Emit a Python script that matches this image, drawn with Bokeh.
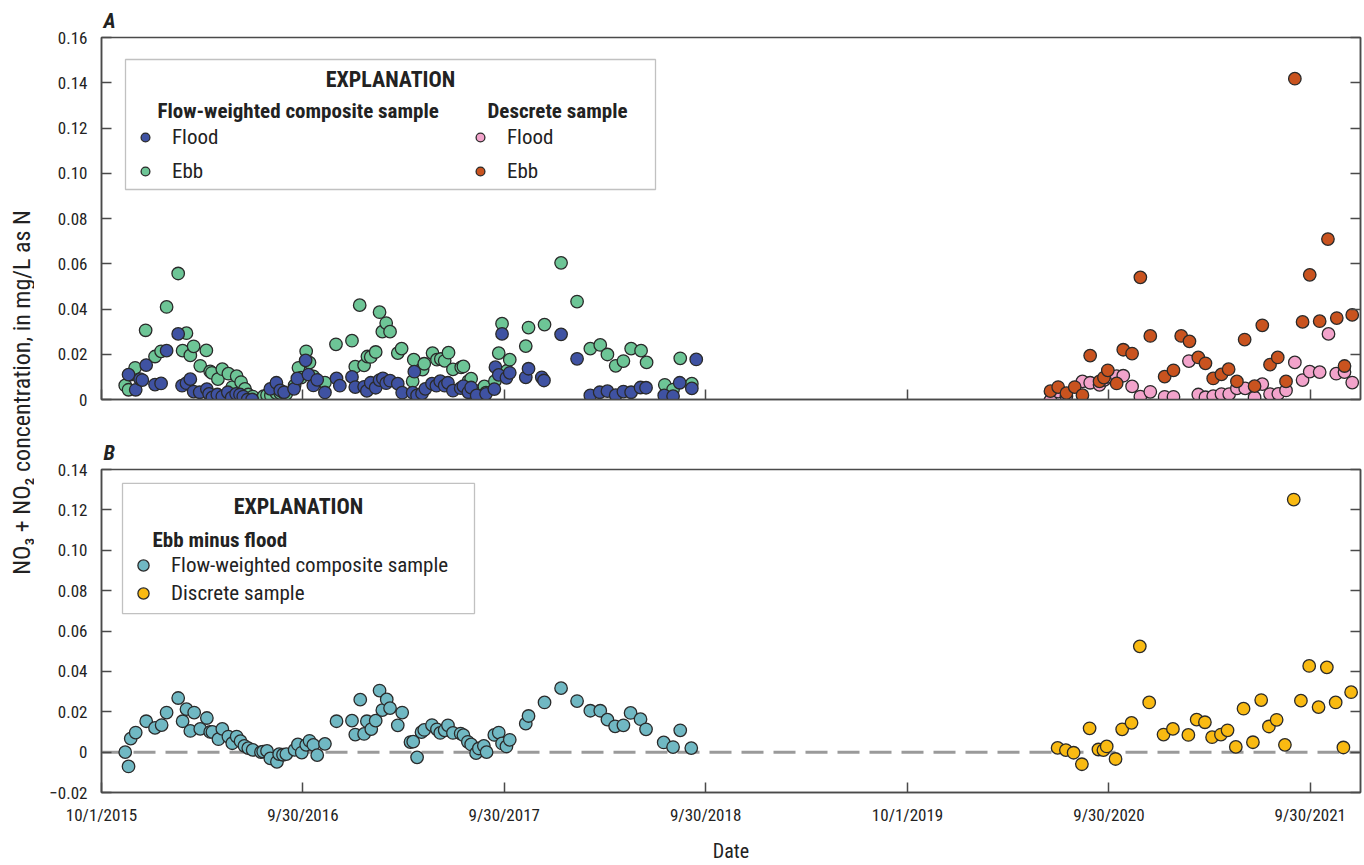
import math
import pandas as pd
from bokeh.plotting import figure
from bokeh.layouts import row, column
from bokeh.models import (Range1d, FixedTicker, CustomJSTickFormatter, LinearAxis, Span,
                          BoxAnnotation, Label, Legend, LegendItem)
from bokeh.embed import file_html
from bokeh.resources import INLINE

# ---------------- data (days since 10/1/2015, concentration mg/L as N) ----------------
START = pd.Timestamp("2015-10-01")

comp_flood_days = [49, 62, 70, 74, 81, 97, 108, 118, 139, 146, 154, 161, 167, 178, 191, 195, 201, 210, 219, 229,
                   236, 244, 251, 257, 265, 273, 306, 317, 324, 331, 349, 355, 370, 375, 384, 391, 405, 426, 432, 454,
                   460, 476, 481, 488, 497, 504, 510, 516, 523, 537, 545, 564, 567, 572, 581, 587, 599, 607, 614, 622,
                   628, 637, 651, 656, 665, 670, 680, 697, 712, 714, 720, 726, 734, 740, 769, 774, 798, 802, 833, 862,
                   886, 903, 917, 932, 946, 960, 977, 987, 1020, 1036, 1048, 1070, 1078]
comp_flood_vals = [0.011, 0.0043, 0.009, 0.0086, 0.0152, 0.0066, 0.0071, 0.0216, 0.029, 0.0061, 0.0072, 0.009, 0.0035,
                   0.0032, 0.0046, 0.0025, 0.0009, 0.0022, 0.0013, 0.0032, 0.0008, 0.0025, 0.0022, 0.0013, 0.0, 0.0,
                   0.0047, 0.0074, 0.004, 0.0032, 0.0047, 0.0093, 0.0173, 0.011, 0.0062, 0.0087, 0.0031, 0.0093, 0.0061,
                   0.01, 0.0055, 0.0056, 0.0038, 0.0074, 0.0052, 0.0086, 0.0093, 0.0072, 0.0083, 0.007, 0.003, 0.003,
                   0.0123, 0.0018, 0.0027, 0.0047, 0.007, 0.0061, 0.0081, 0.0061, 0.0074, 0.0039, 0.005, 0.0059, 0.0032,
                   0.0053, 0.0018, 0.0025, 0.0046, 0.0143, 0.0109, 0.029, 0.0096, 0.0118, 0.0098, 0.0136, 0.0098,
                   0.0084, 0.0288, 0.018, 0.0018, 0.0032, 0.0037, 0.0019, 0.0035, 0.0032, 0.0053, 0.0052, 0.0018,
                   0.0015, 0.0074, 0.0049, 0.0177]

comp_ebb_days = [43, 49, 53, 61, 80, 97, 108, 118, 139, 147, 154, 161, 167, 179, 190, 197, 200, 211, 219, 230,
                 237, 245, 253, 260, 266, 274, 289, 294, 300, 307, 317, 324, 330, 335, 350, 357, 362, 371, 377, 384,
                 391, 405, 425, 454, 460, 468, 476, 482, 488, 497, 504, 509, 516, 523, 537, 544, 564, 566, 582, 585,
                 600, 608, 615, 622, 629, 637, 652, 656, 665, 670, 679, 683, 694, 697, 713, 720, 726, 735, 740, 769,
                 774, 803, 833, 862, 886, 904, 917, 932, 946, 960, 978, 988, 1021, 1036, 1049, 1070]
comp_ebb_vals = [0.0062, 0.0043, 0.011, 0.014, 0.0306, 0.019, 0.0213, 0.0409, 0.0557, 0.0216, 0.0293, 0.0195, 0.0235,
                 0.0149, 0.0217, 0.0124, 0.0118, 0.009, 0.0134, 0.0114, 0.0055, 0.0103, 0.0077, 0.0047, 0.0022, 0.0013,
                 0.0, 0.0015, 0.0019, 0.0018, 0.0028, 0.0028, 0.003, 0.0025, 0.0062, 0.014, 0.0097, 0.0213, 0.0163,
                 0.0102, 0.0081, 0.0075, 0.0244, 0.026, 0.0145, 0.0417, 0.0151, 0.019, 0.0188, 0.021, 0.0386, 0.03,
                 0.0338, 0.03, 0.0205, 0.0225, 0.0081, 0.0176, 0.0132, 0.0158, 0.0205, 0.0176, 0.0179, 0.0171, 0.0207,
                 0.0133, 0.0142, 0.0146, 0.0081, 0.0092, 0.0021, 0.0037, 0.0058, 0.003, 0.0081, 0.0205, 0.0335, 0.0127,
                 0.0176, 0.0236, 0.0318, 0.0331, 0.0604, 0.0433, 0.0225, 0.0241, 0.0199, 0.0149, 0.017, 0.0225, 0.0216,
                 0.0164, 0.0065, 0.0044, 0.0182, 0.007]

disc_flood_days = [1720, 1734, 1749, 1778, 1792, 1809, 1818, 1824, 1840, 1852, 1868, 1883, 1901, 1927, 1943, 1971,
                   1988, 2001, 2015, 2030, 2044, 2058, 2073, 2090, 2104, 2118, 2133, 2147, 2163, 2177, 2190, 2208,
                   2224, 2238, 2253, 2267]
disc_flood_vals = [-0.0004, 0.0035, 0.0015, 0.008, 0.0074, 0.0065, 0.0087, 0.01, 0.0103, 0.0105, 0.0058, 0.0013,
                   0.0034, 0.0012, 0.0012, 0.017, 0.0022, 0.001, 0.0015, 0.0024, 0.0024, 0.0049, 0.0049, 0.0009,
                   0.0068, 0.0024, 0.0025, 0.004, 0.0164, 0.0086, 0.0123, 0.0121, 0.029, 0.0114, 0.0121, 0.0075]

disc_ebb_days = [1720, 1734, 1749, 1764, 1778, 1792, 1809, 1817, 1824, 1840, 1852, 1868, 1883, 1901, 1927, 1943,
                 1957, 1972, 1988, 2001, 2015, 2030, 2043, 2058, 2072, 2090, 2104, 2118, 2132, 2147, 2163, 2177,
                 2190, 2208, 2223, 2239, 2253, 2267]
disc_ebb_vals = [0.0037, 0.0055, 0.0028, 0.0055, 0.0019, 0.0194, 0.008, 0.0097, 0.0129, 0.0071, 0.022, 0.0203, 0.054,
                 0.0281, 0.0101, 0.0129, 0.0281, 0.0257, 0.0186, 0.016, 0.0093, 0.0111, 0.0134, 0.008, 0.0265, 0.0059,
                 0.0328, 0.0154, 0.0186, 0.008, 0.1418, 0.0343, 0.0551, 0.0346, 0.0709, 0.036, 0.0148, 0.0374]

diff_comp_days = [43, 49, 53, 62, 81, 97, 109, 118, 139, 147, 154, 161, 168, 179, 191, 197, 201, 212, 219, 230,
                  237, 245, 252, 259, 266, 274, 289, 293, 300, 306, 318, 322, 329, 335, 350, 356, 363, 371, 377, 384,
                  391, 405, 426, 454, 460, 469, 476, 481, 489, 497, 504, 509, 517, 523, 537, 545, 560, 565, 572, 580,
                  585, 599, 608, 614, 622, 628, 637, 651, 656, 664, 670, 679, 684, 693, 698, 712, 720, 726, 734, 740,
                  769, 774, 803, 833, 862, 886, 904, 917, 931, 946, 959, 977, 987, 1019, 1036, 1049, 1069]
diff_comp_vals = [0.0, -0.0071, 0.0067, 0.0097, 0.0153, 0.012, 0.0134, 0.0196, 0.0268, 0.0153, 0.0213, 0.0105, 0.0196,
                  0.0115, 0.0169, 0.01, 0.01, 0.0064, 0.0115, 0.0077, 0.0044, 0.0077, 0.0054, 0.0031, 0.002, 0.0011,
                  0.0, 0.0003, 0.0006, -0.0031, -0.0048, -0.001, -0.0013, -0.001, 0.0011, 0.0038, -0.0002, 0.0036,
                  0.0056, 0.0036, -0.0015, 0.0041, 0.0153, 0.0156, 0.0087, 0.026, 0.009, 0.0153, 0.0114, 0.0156,
                  0.0305, 0.0208, 0.0261, 0.0218, 0.0133, 0.0196, 0.005, 0.0052, -0.0026, 0.0099, 0.011, 0.0134,
                  0.0113, 0.0095, 0.0108, 0.0133, 0.0095, 0.0092, 0.0084, 0.0051, 0.0038, -0.0005, 0.0018, 0.0031,
                  0.0, 0.0085, 0.0097, 0.0043, 0.0028, 0.0061, 0.0141, 0.0179, 0.0246, 0.0317, 0.0253, 0.0205, 0.0205,
                  0.0161, 0.0128, 0.0133, 0.0194, 0.0163, 0.0113, 0.0048, 0.0025, 0.0108, 0.002]

diff_disc_days = [1733, 1748, 1762, 1777, 1791, 1807, 1816, 1822, 1838, 1850, 1867, 1882, 1899, 1925, 1942, 1970,
                  1985, 2000, 2013, 2029, 2041, 2056, 2070, 2087, 2102, 2116, 2130, 2145, 2161, 2174, 2189, 2206,
                  2221, 2237, 2251, 2265]
diff_disc_vals = [0.0021, 0.001, -0.0003, -0.006, 0.0118, 0.0013, 0.001, 0.0028, -0.0034, 0.0113, 0.0145, 0.0524,
                  0.0246, 0.0087, 0.0115, 0.0085, 0.0161, 0.0148, 0.0074, 0.0087, 0.0108, 0.0026, 0.0215, 0.0049,
                  0.0258, 0.0127, 0.016, 0.0036, 0.1251, 0.0255, 0.0427, 0.0223, 0.042, 0.0246, 0.0023, 0.0297]

x_tick_dates = ["2015-10-01", "2016-09-30", "2017-09-30", "2018-09-30", "2019-10-01", "2020-09-30", "2021-09-30"]
yA_ticks = [0, 0.02, 0.04, 0.06, 0.08, 0.10, 0.12, 0.14, 0.16]
yB_ticks = [-0.02, 0, 0.02, 0.04, 0.06, 0.08, 0.10, 0.12, 0.14]

# ---------------- styling ----------------
C_FLOOD_COMP = "#3F52A2"
C_EBB_COMP = "#6DC596"
C_FLOOD_DISC = "#F2A3CB"
C_EBB_DISC = "#C9531F"
C_DIFF_COMP = "#70B8C3"
C_DIFF_DISC = "#F9BA12"
EDGE = "#2a2a2a"
AXC = "#4a4a4a"
FONT = "Roboto Condensed"
TXT = "#222222"


def to_dt(days):
    return START + pd.to_timedelta(days, unit="D")


START_MS = START.value / 1e6
DAY_MS = 86400000.0
X_END_DAYS = 2282
x_range = Range1d(start=START_MS, end=START_MS + X_END_DAYS * DAY_MS)

LBL_W = 34
FIG_W = 1330
MB_LEFT, MB_RIGHT = 67, 4
FR_LEFT = LBL_W + MB_LEFT
FR_W = FIG_W - MB_LEFT - MB_RIGHT
A_H, A_TOP, A_BOT = 432, 37, 33
B_H, B_TOP, B_BOT = 433, 37, 71
A_FR_TOP, A_FR_BOT = A_TOP, A_H - A_BOT
B_FR_TOP, B_FR_BOT = A_H + B_TOP, A_H + B_H - B_BOT


def px_x(px):
    return START_MS + (px - FR_LEFT) / FR_W * X_END_DAYS * DAY_MS


def px_yA(py):
    return 0.16 * (A_FR_BOT - py) / (A_FR_BOT - A_FR_TOP)


def px_yB(py):
    return -0.02 + 0.16 * (B_FR_BOT - py) / (B_FR_BOT - B_FR_TOP)


y_fmt = CustomJSTickFormatter(code="""
if (Math.abs(tick) < 1e-9) return '0';
return tick < 0 ? '\\u2212' + Math.abs(tick).toFixed(2) : tick.toFixed(2);
""")
x_fmt = CustomJSTickFormatter(code="""
const d = new Date(tick);
return (d.getUTCMonth() + 1) + '/' + d.getUTCDate() + '/' + d.getUTCFullYear();
""")
blank_fmt = CustomJSTickFormatter(code="return '';")
x_ticks = [pd.Timestamp(d).value / 1e6 for d in x_tick_dates]


def make_fig(h, top, bot, y0, y1, yticks, show_xlabels, panel):
    p = figure(width=FIG_W, height=h, x_axis_type="datetime", x_range=x_range,
               y_range=Range1d(y0, y1), output_backend="svg", toolbar_location=None,
               min_border_left=MB_LEFT, min_border_right=MB_RIGHT, min_border_top=top,
               min_border_bottom=bot, background_fill_color="white", border_fill_color="white",
               title=panel)
    p.title.align = "left"
    p.title.offset = 2
    p.title.standoff = 9
    p.title.text_font = FONT
    p.title.text_font_style = "bold italic"
    p.title.text_font_size = "21px"
    p.title.text_color = TXT
    p.grid.visible = False
    p.outline_line_color = AXC
    p.outline_line_width = 1.5
    xa = p.xaxis[0]
    xa.ticker = FixedTicker(ticks=x_ticks)
    xa.formatter = x_fmt if show_xlabels else blank_fmt
    ya = p.yaxis[0]
    ya.ticker = FixedTicker(ticks=yticks)
    ya.formatter = y_fmt
    for ax in (xa, ya):
        ax.major_tick_in = 10
        ax.major_tick_out = 0
        ax.minor_tick_line_color = None
        ax.axis_line_color = AXC
        ax.axis_line_width = 1.5
        ax.major_tick_line_color = AXC
        ax.major_tick_line_width = 1.5
        ax.major_label_text_font = FONT
        ax.major_label_text_font_size = "17px"
        ax.major_label_text_color = TXT
    ya.major_label_standoff = 14
    xa.major_label_standoff = 12
    ra = LinearAxis(ticker=FixedTicker(ticks=yticks), formatter=blank_fmt, major_tick_in=10,
                    major_tick_out=0, minor_tick_line_color=None, axis_line_color=AXC, axis_line_width=1.5,
                    major_tick_line_color=AXC, major_tick_line_width=1.5, major_label_standoff=0,
                    major_label_text_font_size="1px")
    p.add_layout(ra, "right")
    return p


def pts(p, days, vals, color):
    return p.scatter(to_dt(days), vals, size=12.5, fill_color=color, line_color=EDGE, line_width=1.3)


def head(p, x, y, text, size, align="left"):
    p.add_layout(Label(x=x, y=y, text=text, text_font=FONT, text_font_style="bold", text_font_size=size,
                       text_align=align, text_baseline="middle", text_color=TXT))


# ---------------- panel A ----------------
pA = make_fig(A_H, A_TOP, A_BOT, 0, 0.16, yA_ticks, False, "A")
r_ebb_c = pts(pA, comp_ebb_days, comp_ebb_vals, C_EBB_COMP)
r_flood_c = pts(pA, comp_flood_days, comp_flood_vals, C_FLOOD_COMP)
r_flood_d = pts(pA, disc_flood_days, disc_flood_vals, C_FLOOD_DISC)
r_ebb_d = pts(pA, disc_ebb_days, disc_ebb_vals, C_EBB_DISC)

pA.add_layout(BoxAnnotation(left=px_x(125), right=px_x(655), top=px_yA(59), bottom=px_yA(189),
                            fill_color="white", fill_alpha=1.0, line_color="#333", line_width=1.3))
head(pA, px_x(390), px_yA(79), "EXPLANATION", "22px", "center")
head(pA, px_x(157), px_yA(110), "Flow-weighted composite sample", "21px")
head(pA, px_x(487), px_yA(110), "Descrete sample", "21px")

leg_kw = dict(border_line_color=None, background_fill_alpha=0.0, padding=0, margin=0,
              label_text_font=FONT, label_text_font_size="21px", label_text_color=TXT)
legA1 = Legend(items=[LegendItem(label="Flood", renderers=[r_flood_c]), LegendItem(label="Ebb", renderers=[r_ebb_c])],
               location=(134 - FR_LEFT, A_FR_BOT - 183), spacing=10, glyph_width=22, glyph_height=22,
               label_standoff=16, **leg_kw)
legA2 = Legend(items=[LegendItem(label="Flood", renderers=[r_flood_d]), LegendItem(label="Ebb", renderers=[r_ebb_d])],
               location=(469 - FR_LEFT, A_FR_BOT - 183), spacing=10, glyph_width=22, glyph_height=22,
               label_standoff=16, **leg_kw)
pA.add_layout(legA1)
pA.add_layout(legA2)

# ---------------- panel B ----------------
pB = make_fig(B_H, B_TOP, B_BOT, -0.02, 0.14, yB_ticks, True, "B")
pB.add_layout(Span(location=0, dimension="width", line_color="#9a9a9a", line_width=3, line_dash="22 10",
                   level="underlay"))
r_diff_c = pts(pB, diff_comp_days, diff_comp_vals, C_DIFF_COMP)
r_diff_d = pts(pB, diff_disc_days, diff_disc_vals, C_DIFF_DISC)
pB.xaxis[0].axis_label = "Date"
pB.xaxis[0].axis_label_text_font = FONT
pB.xaxis[0].axis_label_text_font_style = "normal"
pB.xaxis[0].axis_label_text_font_size = "20px"
pB.xaxis[0].axis_label_text_color = TXT
pB.xaxis[0].axis_label_standoff = 11

pB.add_layout(BoxAnnotation(left=px_x(122), right=px_x(474), top=px_yB(483), bottom=px_yB(614),
                            fill_color="white", fill_alpha=1.0, line_color="#333", line_width=1.3))
head(pB, px_x(298), px_yB(506), "EXPLANATION", "22px", "center")
head(pB, px_x(152), px_yB(540), "Ebb minus flood", "21px")
legB = Legend(items=[LegendItem(label="Flow-weighted composite sample", renderers=[r_diff_c]),
                     LegendItem(label="Discrete sample", renderers=[r_diff_d])],
              location=(129 - FR_LEFT, B_FR_BOT - 609), spacing=0, glyph_width=28, glyph_height=28,
              label_standoff=14, **leg_kw)
pB.add_layout(legB)

# ---------------- shared y label ----------------
pL = figure(width=LBL_W, height=A_H + B_H, x_range=Range1d(0, LBL_W), y_range=Range1d(0, A_H + B_H),
            output_backend="svg", toolbar_location=None, min_border=0, x_axis_location=None,
            y_axis_location=None, outline_line_color=None, border_fill_color="white")
pL.grid.visible = False
pL.add_layout(Label(x=21, y=A_H + B_H - 392, text="NO\u2083 + NO\u2082 concentration, in mg/L as N",
                    angle=math.pi / 2, text_align="center", text_baseline="middle", text_font=FONT,
                    text_font_size="24px", text_color=TXT))

layout = row(pL, column(pA, pB))
open("out.html", "w").write(file_html(layout, INLINE))
